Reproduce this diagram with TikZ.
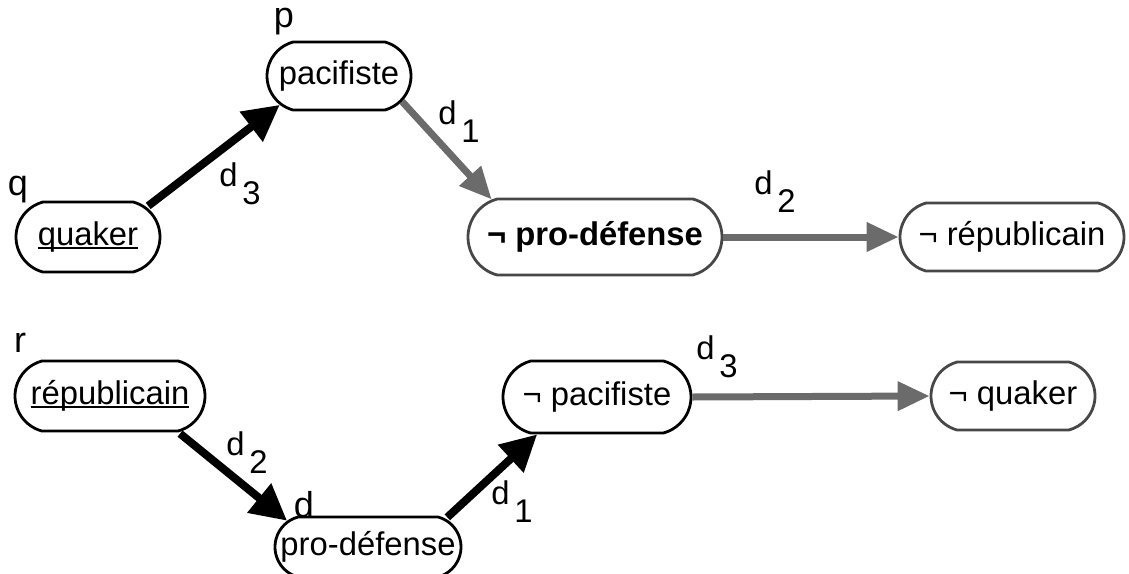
\documentclass[tikz,border=0pt]{standalone}
\usepackage{fontspec}
\setmainfont{Liberation Sans}
\usetikzlibrary{arrows.meta,shapes.misc}
\definecolor{dgray}{gray}{0.42}
\definecolor{bgray}{gray}{0.28}
\newcommand{\dlab}[2]{#1\hspace{0.15em}\raisebox{-0.55em}{#2}}
\newcommand{\uln}[1]{\setbox0\hbox{#1}\rlap{\rule[-1.6pt]{\wd0}{0.9pt}}#1}
\tikzset{
  every node/.style={font=\fontsize{16.4}{19}\selectfont, inner sep=0pt},
  term/.style={rounded rectangle, rounded rectangle arc length=150, draw=black, line width=1.4pt},
  gterm/.style={rounded rectangle, rounded rectangle arc length=150, draw=bgray, line width=1.4pt},
  strong/.style={line width=4pt, -{Triangle[length=18pt,width=18pt]}, shorten <=1pt},
  weak/.style={draw=dgray, line width=3.5pt, -{Triangle[length=16pt,width=14pt]}, color=dgray},
  lbl/.style={anchor=center},
  tag/.style={anchor=center, font=\fontsize{18}{21}\selectfont}
}
\begin{document}
\begin{tikzpicture}[x=0.5pt,y=-0.5pt]
\useasboundingbox (0,0) rectangle (1129,573);
% top row
\node[term, minimum width=72pt, minimum height=35pt] (quaker) at (88,237) {\uln{quaker}};
\node[term, minimum width=72pt, minimum height=34pt] (pac) at (339,76) {pacifiste};
\node[gterm, minimum width=127pt, minimum height=38pt] (npd) at (595,237) {\textbf{¬ pro-défense}};
\node[gterm, minimum width=112pt, minimum height=34pt] (nrep) at (1012,237) {¬ républicain};
\node[tag] (lq) at (18,190) {q};
\node[tag] (lp) at (284,22) {p};
\node[lbl] (l3a) at (240,184) {\dlab{d}{3}};
\node[lbl] (l1a) at (459,122) {\dlab{d}{1}};
\node[lbl] (l2a) at (775,192) {\dlab{d}{2}};
\draw[strong] (quaker.27) -- (pac.206);
\draw[weak] (pac.-22) -- (npd.160);
\draw[weak] (npd.east) -- (nrep.west);
% bottom row
\node[term, minimum width=95pt, minimum height=35pt] (rep) at (110,396) {\uln{républicain}};
\node[term, minimum width=93pt, minimum height=30pt] (pd) at (368,547) {pro-défense};
\node[term, minimum width=94pt, minimum height=36pt] (npac) at (597,397) {¬ pacifiste};
\node[gterm, minimum width=82pt, minimum height=34pt] (nq) at (1013,396) {¬ quaker};
\node[tag] (lr) at (20,343) {r};
\node[tag] (ld) at (304,505) {d};
\node[lbl] (l2b) at (247,453) {\dlab{d}{2}};
\node[lbl] (l1b) at (512,502) {\dlab{d}{1}};
\node[lbl] (l3b) at (717,357) {\dlab{d}{3}};
\draw[strong] (rep.-28) -- (pd.162);
\draw[strong] (pd.20) -- (npac.212);
\draw[weak] (npac.east) -- (nq.west);
\end{tikzpicture}
\end{document}
